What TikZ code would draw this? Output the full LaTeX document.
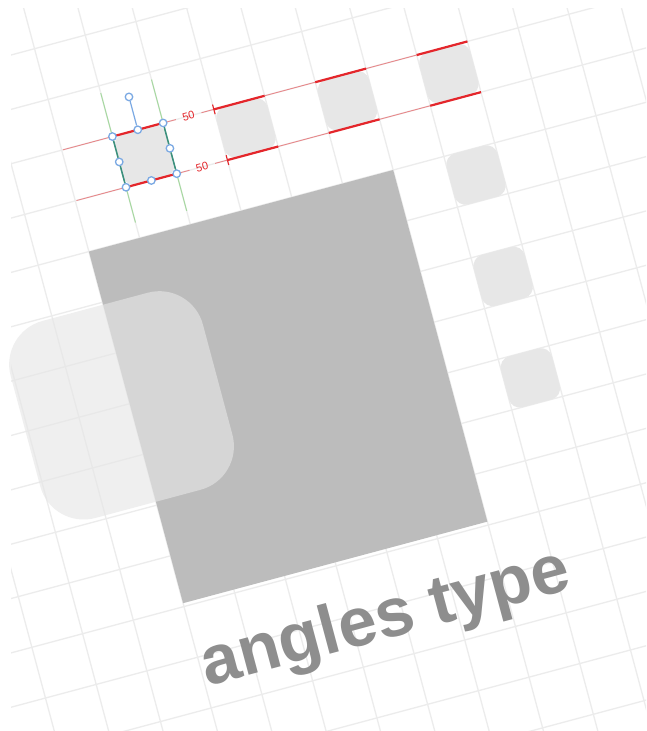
\documentclass[tikz,border=0pt]{standalone}
\usepackage{fontspec}
\setmainfont{Liberation Sans}
\definecolor{gridc}{HTML}{ECECEC}
\definecolor{tilec}{HTML}{E7E7E7}
\definecolor{darkc}{HTML}{BCBCBC}
\definecolor{lightc}{HTML}{E6E6E6}
\definecolor{redc}{HTML}{E4262B}
\definecolor{greenc}{HTML}{A6D9A0}
\definecolor{tealc}{HTML}{3B8F7E}
\definecolor{handlec}{HTML}{7BA9E3}
\definecolor{textc}{HTML}{8E8E8E}
\begin{document}
\begin{tikzpicture}[
  gridline/.style={draw=gridc, line width=1.3pt},
  tile/.style={fill=tilec, rounded corners=11pt},
  guidethin/.style={draw=redc, line width=0.9pt, draw opacity=0.5},
  guidethick/.style={draw=redc, line width=2.2pt},
  ticks/.style={draw=redc, line width=1.1pt},
  greenguide/.style={draw=greenc, line width=1pt},
  seledge/.style={draw=tealc, line width=1.5pt},
  rotline/.style={draw=handlec, line width=1.2pt},
  handle/.style={circle, draw=handlec, fill=white, line width=1.3pt, minimum size=7.5pt, inner sep=0pt},
  dimlabel/.style={text=redc, font=\fontsize{11}{11}\selectfont, rotate=15, inner sep=1pt},
  localframe/.style={x=1pt, y=-1pt, rotate=15}
]
\path[use as bounding box, fill=white] (0pt,0pt) rectangle (646pt,-731pt);
% grid
\begin{scope}
  \clip (11pt,-8pt) rectangle (646pt,-731pt);
  \begin{scope}[localframe]
    \foreach \k in {-5,...,12} {\draw[gridline] ({20.75+52.5*\k},-120) -- ({20.75+52.5*\k},920);}
    \foreach \k in {-7,...,12} {\draw[gridline] (-260,{266+52.5*\k}) -- (720,{266+52.5*\k});}
  \end{scope}
\end{scope}
\begin{scope}[localframe]
  % small tiles
  \foreach \c in {99.5,204.5,309.5,414.5} {\path[tile] ({\c-26.25},161) rectangle ({\c+26.25},213.5);}
  \foreach \r in {292.25,397.25,502.25} {\path[tile] (388.25,{\r-26.25}) rectangle (440.75,{\r+26.25});}
  % big dark rectangle
  \path[fill=darkc] (20.75,266) rectangle (335.75,630);
  % translucent rounded rectangle
  \path[fill=lightc, fill opacity=0.62, rounded corners=45pt] (-87,321) rectangle (112,525);
  % guide lines
  \coordinate (tA) at (22,161);   \coordinate (tB) at (139,161);
  \coordinate (tC) at (165.5,161); \coordinate (tD) at (440.75,161);
  \coordinate (bA) at (22,213.5);  \coordinate (bB) at (139,213.5);
  \coordinate (bC) at (165.5,213.5); \coordinate (bD) at (440.75,213.5);
  \draw[guidethin] (tA) -- (tB) (tC) -- (tD);
  \draw[guidethin] (bA) -- (bB) (bC) -- (bD);
  \foreach \s in {73.25,178.25,283.25,388.25} {
    \draw[guidethick] (\s,161) -- ({\s+52.5},161);
    \draw[guidethick] (\s,213.5) -- ({\s+52.5},213.5);
  }
  \draw[ticks] (178.25,156) -- (178.25,166);
  \draw[ticks] (178.25,208.5) -- (178.25,218.5);
  \node[dimlabel] (d1) at (152,161) {50};
  \node[dimlabel] (d2) at (152,213.5) {50};
  % green alignment guides
  \draw[greenguide] (73.25,116) -- (73.25,250);
  \draw[greenguide] (125.75,116) -- (125.75,252);
  % selection
  \node[handle] (h1) at (73.25,161) {};
  \node[handle] (h2) at (99.5,161) {};
  \node[handle] (h3) at (125.75,161) {};
  \node[handle] (h4) at (125.75,187.25) {};
  \node[handle] (h5) at (125.75,213.5) {};
  \node[handle] (h6) at (99.5,213.5) {};
  \node[handle] (h7) at (73.25,213.5) {};
  \node[handle] (h8) at (73.25,187.25) {};
  \node[handle] (hr) at (99.5,127) {};
  \draw[seledge] (h1) -- (h8) -- (h7);
  \draw[seledge] (h3) -- (h4) -- (h5);
  \draw[rotline] (h2) -- (hr);
  % title
  \node[anchor=base west, rotate=15, inner sep=0pt, text=textc,
        font=\bfseries\fontsize{69}{69}\selectfont] (title) at (22,717) {angles type};
\end{scope}
\end{tikzpicture}
\end{document}
